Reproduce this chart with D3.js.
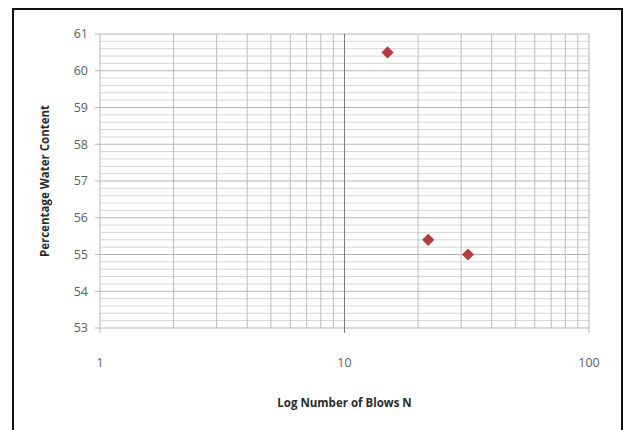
<!DOCTYPE html>
<html>
<head>
<meta charset="utf-8">
<script src="https://cdn.jsdelivr.net/npm/d3@7"></script>
<style>
  body { margin: 0; background: #fff; }
  text { font-family: "Open Sans", "DejaVu Sans", sans-serif; }
</style>
</head>
<body>
<svg id="chart"></svg>
<script>
// values
const blows = [15, 22, 32];
const waterContent = [60.5, 55.4, 55.0];
const xTicks = [1, 10, 100];
const yTicks = [53, 54, 55, 56, 57, 58, 59, 60, 61];

const width = 625, height = 430;
const margin = { left: 100, right: 36, top: 34, bottom: 102 };

const svg = d3.select("#chart")
    .attr("width", width)
    .attr("height", height)
    .attr("viewBox", `0 0 ${width} ${height}`);

// outer frame
svg.append("rect")
    .attr("x", 13).attr("y", 9)
    .attr("width", 609).attr("height", 430)
    .attr("fill", "#fff")
    .attr("stroke", "#111")
    .attr("stroke-width", 2);

const x = d3.scaleLog()
    .domain([1, 100])
    .range([margin.left, width - margin.right]);

const y = d3.scaleLinear()
    .domain([53, 61])
    .range([height - margin.bottom, margin.top]);

const grid = svg.append("g");

// minor horizontal lines, every 0.2
const minorY = d3.range(53, 61.001, 0.2).map(v => +v.toFixed(1));
grid.selectAll("line.hmin")
    .data(minorY.filter(v => !Number.isInteger(v)))
    .join("line")
    .attr("class", "hmin")
    .attr("x1", x(1)).attr("x2", x(100))
    .attr("y1", d => y(d)).attr("y2", d => y(d))
    .attr("stroke", "#d6d6d6");

// vertical lines at 2..9, 20..90
const minorX = [];
[1, 10].forEach(dec => { for (let i = 2; i <= 9; i++) minorX.push(i * dec); });
grid.selectAll("line.vmin")
    .data(minorX)
    .join("line")
    .attr("class", "vmin")
    .attr("x1", d => x(d)).attr("x2", d => x(d))
    .attr("y1", y(61)).attr("y2", y(53))
    .attr("stroke", "#bdbdbd");

// major horizontal lines
grid.selectAll("line.hmaj")
    .data(yTicks)
    .join("line")
    .attr("class", "hmaj")
    .attr("x1", x(1) - 5).attr("x2", x(100))
    .attr("y1", d => y(d)).attr("y2", d => y(d))
    .attr("stroke", "#b5b5b5");

// major vertical lines
grid.selectAll("line.vmaj")
    .data(xTicks)
    .join("line")
    .attr("class", "vmaj")
    .attr("x1", d => x(d)).attr("x2", d => x(d))
    .attr("y1", y(61)).attr("y2", y(53) + 5)
    .attr("stroke", d => d === 10 ? "#7a7a7a" : "#b5b5b5");

// tick labels
svg.append("g").selectAll("text")
    .data(yTicks)
    .join("text")
    .attr("x", x(1) - 12)
    .attr("y", d => y(d))
    .attr("dy", "0.35em")
    .attr("text-anchor", "end")
    .attr("font-size", 12.5)
    .attr("fill", "#5e5e5e")
    .text(d => d);

svg.append("g").selectAll("text")
    .data(xTicks)
    .join("text")
    .attr("x", d => x(d))
    .attr("y", y(53) + 39)
    .attr("text-anchor", "middle")
    .attr("font-size", 12.5)
    .attr("fill", "#5e5e5e")
    .text(d => d);

// axis titles
svg.append("text")
    .attr("x", x(10))
    .attr("y", 407)
    .attr("text-anchor", "middle")
    .attr("font-size", 11.5)
    .attr("font-weight", "bold")
    .attr("fill", "#2a2a2a")
    .text("Log Number of Blows N");

svg.append("text")
    .attr("transform", `translate(49, ${(y(53) + y(61)) / 2}) rotate(-90)`)
    .attr("text-anchor", "middle")
    .attr("font-size", 11.5)
    .attr("font-weight", "bold")
    .attr("fill", "#2a2a2a")
    .text("Percentage Water Content");

// points
const points = blows.map((b, i) => ({ n: b, w: waterContent[i] }));
svg.append("g").selectAll("path")
    .data(points)
    .join("path")
    .attr("transform", d => `translate(${x(d.n)},${y(d.w)})`)
    .attr("d", d3.symbol(d3.symbolDiamond2, 95))
    .attr("fill", "#b33c3c");
</script>
</body>
</html>
